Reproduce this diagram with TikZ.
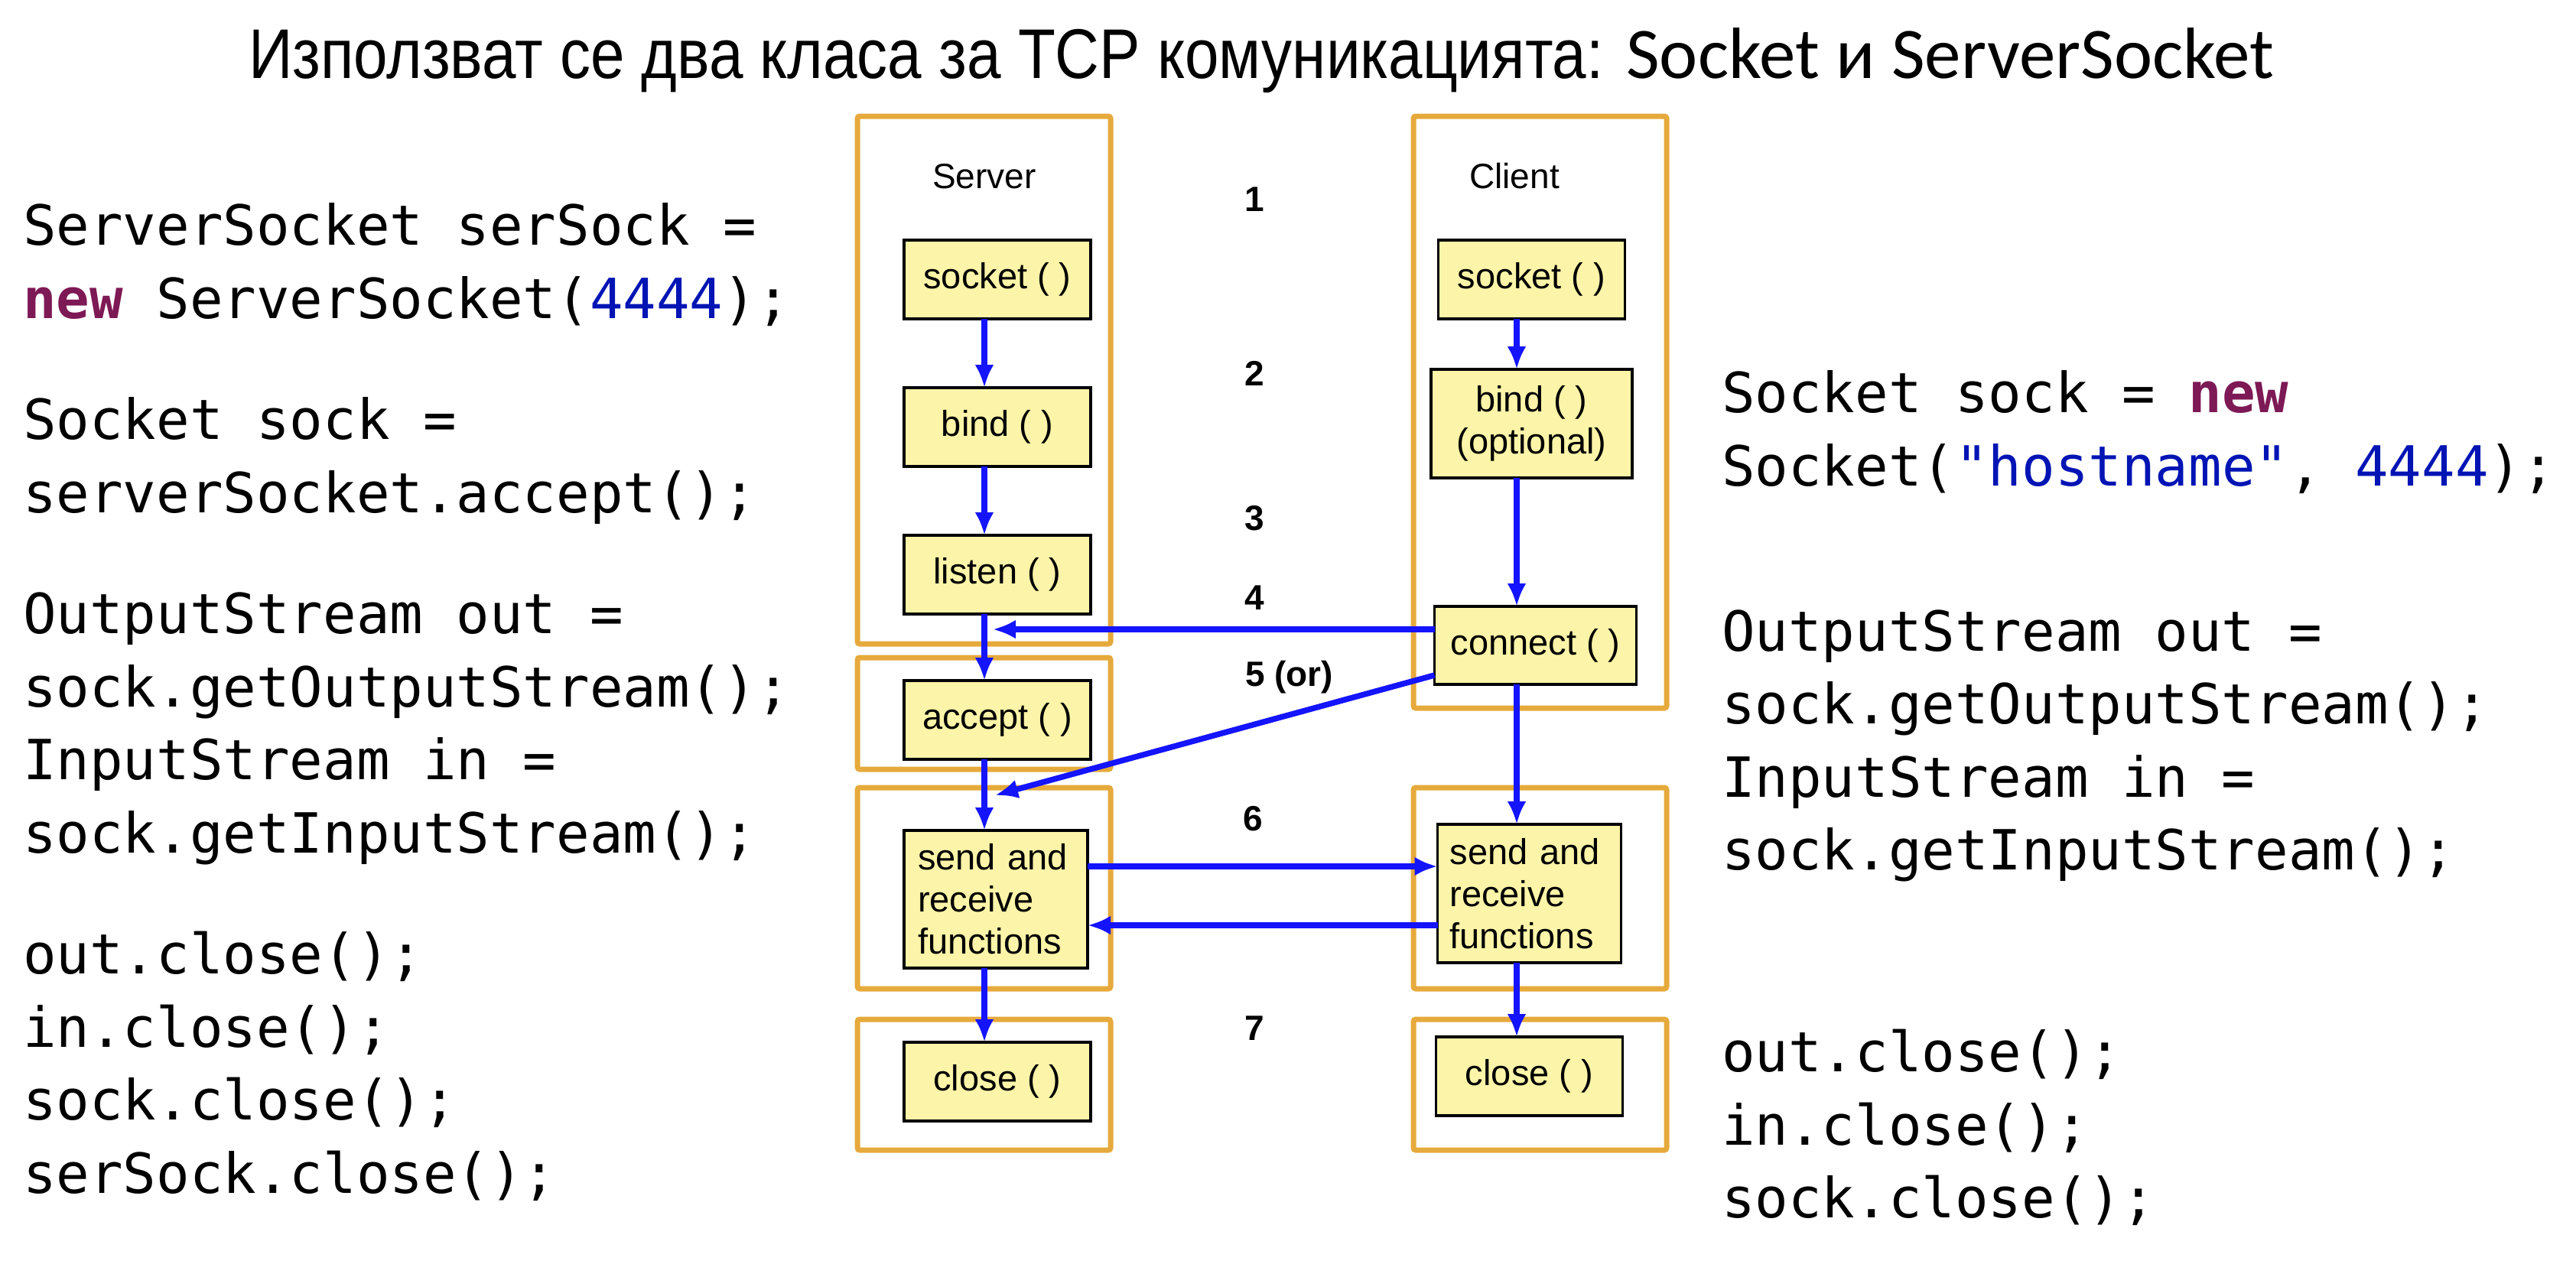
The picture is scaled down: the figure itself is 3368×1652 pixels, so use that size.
\documentclass[tikz,border=0pt]{standalone}
\usepackage{fontspec}
\usepackage{graphicx}
\setmainfont{Liberation Sans}
\newfontfamily\codefont{DejaVu Sans Mono}
\newfontfamily\carlitofont{Carlito}
\usetikzlibrary{arrows.meta, positioning, calc}

\definecolor{frameorange}{RGB}{230,170,60}
\definecolor{boxyellow}{RGB}{252,244,168}
\definecolor{flowblue}{RGB}{20,20,255}
\definecolor{kwpurple}{RGB}{125,25,85}
\definecolor{litblue}{RGB}{0,20,180}

\newcommand{\kw}[1]{\textcolor{kwpurple}{\bfseries #1}}
\newcommand{\lit}[1]{\textcolor{litblue}{#1}}

\begin{document}
\begin{tikzpicture}[x=1pt, y=-1pt,
        callbox/.style={draw, line width=3.5pt, fill=boxyellow, font=\fontsize{47}{55}\selectfont, minimum width=244pt, minimum height=103pt, inner sep=0pt, outer sep=0pt, align=center},
        grpframe/.style={draw=frameorange, line width=7pt, rounded corners=3pt},
        arr/.style={-{Latex[length=30pt, width=25pt]}, draw=flowblue, line width=7.5pt},
        lbl/.style={font=\fontsize{46}{55}\selectfont, anchor=base, inner sep=0pt},
        stepnum/.style={font=\fontsize{46}{55}\selectfont\bfseries, anchor=base, inner sep=0pt},
        codeblk/.style={font=\codefont\fontsize{72.4}{95.5}\selectfont, align=left, anchor=north west, inner sep=0pt}
    ]
        \useasboundingbox (0,0) rectangle (3368,1652);

        \node[anchor=base west, inner sep=0pt] (title) at (325,102) {\scalebox{0.87}[1]{\fontsize{92}{100}\selectfont Използват се два класа за TCP комуникацията: }{\carlitofont\fontsize{95}{100}\selectfont Socket и ServerSocket}};

        % orange groups
        \draw[grpframe] (1121,152) rectangle (1452,842);
        \draw[grpframe] (1121,860) rectangle (1452,1006);
        \draw[grpframe] (1121,1030) rectangle (1452,1293);
        \draw[grpframe] (1121,1333) rectangle (1452,1504);
        \draw[grpframe] (1848,152) rectangle (2179,926);
        \draw[grpframe] (1848,1030) rectangle (2179,1293);
        \draw[grpframe] (1848,1333) rectangle (2179,1504);

        \node[lbl] (srvlbl) at (1287,246) {Server};
        \node[lbl] (clilbl) at (1980,246) {Client};

        % server side
        \node[callbox] (ssock) at (1304,365.5) {socket ( )};
        \node[callbox, below=90pt of ssock] (sbind) {bind ( )};
        \node[callbox, below=90pt of sbind] (slisten) {listen ( )};
        \node[callbox, below=87pt of slisten] (saccept) {accept ( )};
        \node[callbox, below=93pt of saccept, xshift=-2pt, minimum width=240pt, minimum height=180pt, text width=204pt, align=left] (ssend) {send and\\receive\\functions};
        \node[callbox, below=97pt of ssend, xshift=2pt] (sclose) {close ( )};

        % client side
        \node[callbox] (csock) at (2002.5,365.5) {socket ( )};
        \node[callbox, below=66pt of csock, minimum width=263pt, minimum height=142pt] (cbind) {bind ( )\\(optional)};
        \node[callbox, below=168pt of cbind, xshift=5pt, minimum width=264pt, minimum height=102pt] (cconnect) {connect ( )};
        \node[callbox, below=183pt of cconnect, xshift=-8pt, minimum width=240pt, minimum height=181pt, text width=208pt, align=left] (csend) {send and\\receive\\functions};
        \node[callbox, below=97pt of csend] (cclose) {close ( )};

        % step numbers
        \node[stepnum] (n1) at (1640,276) {1};
        \node[stepnum] (n2) at (1640,504) {2};
        \node[stepnum] (n3) at (1640,693) {3};
        \node[stepnum] (n4) at (1640,797) {4};
        \node[stepnum, anchor=base west] (n5) at (1628,897) {5 (or)};
        \node[stepnum] (n6) at (1638,1086) {6};
        \node[stepnum] (n7) at (1640,1360) {7};

        \coordinate (sline) at (1287,0);
        \coordinate (cline) at (1983,0);
        \coordinate (hit4) at (1298,823);
        \coordinate (hit5) at (1301,1040);
        \coordinate (row6a) at (0,1133);
        \coordinate (row6b) at (0,1210);

        \draw[arr] (ssock.south -| sline) -- (sbind.north -| sline);
        \draw[arr] (sbind.south -| sline) -- (slisten.north -| sline);
        \draw[arr] (slisten.south -| sline) -- (saccept.north -| sline);
        \draw[arr] (saccept.south -| sline) -- (ssend.north -| sline);
        \draw[arr] (ssend.south -| sline) -- (sclose.north -| sline);

        \draw[arr] (csock.south -| cline) -- (cbind.north -| cline);
        \draw[arr] (cbind.south -| cline) -- (cconnect.north -| cline);
        \draw[arr] (cconnect.south -| cline) -- (csend.north -| cline);
        \draw[arr] (csend.south -| cline) -- (cclose.north -| cline);

        \draw[arr] (hit4 -| cconnect.west) -- (hit4);
        \draw[arr] ($(cconnect.west)+(0,39)$) -- (hit5);
        \draw[arr] (ssend.east |- row6a) -- (csend.west |- row6a);
        \draw[arr] (csend.west |- row6b) -- (ssend.east |- row6b);

        % java code
        \node[codeblk] (srvcode) at (30,253.6) {\strut ServerSocket serSock =\\
            \kw{new} ServerSocket(\lit{4444});\\[63pt]
            Socket sock =\\
            serverSocket.accept();\\[63pt]
            OutputStream out =\\
            sock.getOutputStream();\\
            InputStream in =\\
            sock.getInputStream();\\[63pt]
            out.close();\\
            in.close();\\
            sock.close();\\
            serSock.close();};
        \node[codeblk] (clicode) at (2251,472.6) {\strut Socket sock = \kw{new}\\
            Socket(\lit{"hostname"}, \lit{4444});\\[120.5pt]
            OutputStream out =\\
            sock.getOutputStream();\\
            InputStream in =\\
            sock.getInputStream();\\[168.5pt]
            out.close();\\
            in.close();\\
            sock.close();};
    \end{tikzpicture}
\end{document}
